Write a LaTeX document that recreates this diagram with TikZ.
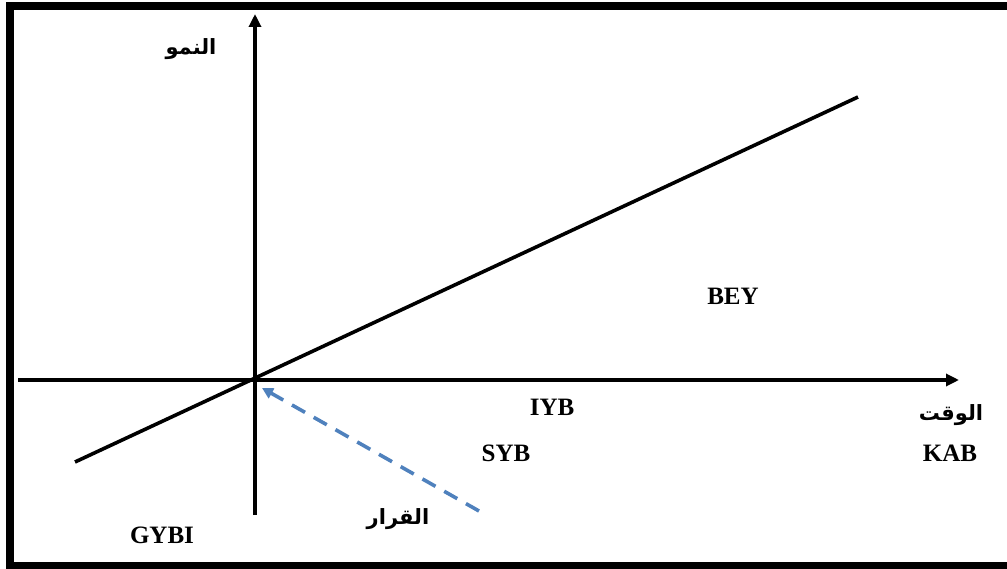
\documentclass[tikz,border=0pt]{standalone}
\usepackage{fontspec}
\setmainfont{Liberation Serif}
\newfontfamily\arabicfont[Script=Arabic]{DejaVu Sans}
\TeXXeTstate=1
\usetikzlibrary{arrows.meta}

\begin{document}
\begin{tikzpicture}[
    x=1pt, y=-1pt,
    every node/.style={font=\fontsize{25}{30}\selectfont\bfseries},
    >={Triangle[length=13pt,width=12pt]},
    axis/.style={->, line width=3.2pt},
    trend/.style={line width=3.6pt},
    decision/.style={-{Triangle[length=11pt,width=11pt]}, line width=3.6pt,
        dash pattern=on 15pt off 10pt, color=declblue},
    arlabel/.style={font=\arabicfont\fontsize{21}{26}\selectfont\bfseries},
]
\definecolor{declblue}{RGB}{79,129,189}

\useasboundingbox (0,0) rectangle (1007,569);

% === Frame (right side runs off the page) ===
\draw[line width=8pt] (9.5,6.5) rectangle (1020,565.5);

% === Axes ===
\coordinate (origin) at (255,380);
\coordinate (xstart) at (18,380);
\coordinate (xend) at (959,380);
\coordinate (ystart) at (255,515);
\coordinate (yend) at (255,14);
\draw[axis] (xstart) -- (xend);
\draw[axis] (ystart) -- (yend);

% === Growth line ===
\coordinate (lowend) at (75,462);
\coordinate (highend) at (858,97);
\draw[trend] (lowend) -- (highend);

% === Decision arrow (dashed) ===
\coordinate (decstart) at (479,511);
\coordinate (dectip) at (262,388);
\draw[decision] (decstart) -- (dectip);

% === Labels ===
\node[arlabel] (growth) at (191,49) {\beginR النمو\endR};
\node[arlabel] (time) at (951,415) {\beginR الوقت\endR};
\node[arlabel] (decision) at (398,519) {\beginR القرار\endR};
\node (kab) at (950,453) {KAB};
\node (bey) at (733,296) {BEY};
\node (iyb) at (552,407) {IYB};
\node (syb) at (506,453) {SYB};
\node (gybi) at (162,535) {GYBI};

\end{tikzpicture}
\end{document}
